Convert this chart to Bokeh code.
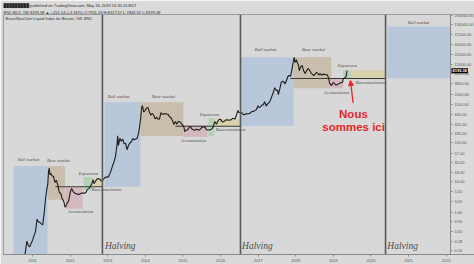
import pandas as pd
from bokeh.plotting import figure
from bokeh.models import (Range1d, FixedTicker, DatetimeTickFormatter, PrintfTickFormatter,
                          Span, Label, Arrow, NormalHead, Title, BoxAnnotation)
from bokeh.core.properties import value
from bokeh.embed import file_html
from bokeh.resources import INLINE

# ---------------- data ----------------
price_dates = [
    "2010-07-18", "2010-08-15", "2010-09-15", "2010-10-10", "2010-10-24", "2010-11-07", "2010-11-21",
    "2010-12-05", "2010-12-19", "2011-01-02", "2011-01-16", "2011-01-30", "2011-02-13", "2011-02-27",
    "2011-03-13", "2011-03-27", "2011-04-10", "2011-04-24", "2011-05-08", "2011-05-22", "2011-05-29",
    "2011-06-05", "2011-06-12", "2011-06-19", "2011-06-26", "2011-07-10", "2011-07-24", "2011-08-07",
    "2011-08-21", "2011-09-04", "2011-09-18", "2011-10-02", "2011-10-16", "2011-10-30", "2011-11-13",
    "2011-11-20", "2011-12-04", "2011-12-18", "2012-01-01", "2012-01-15", "2012-01-29", "2012-02-12",
    "2012-02-26", "2012-03-11", "2012-03-25", "2012-04-08", "2012-04-22", "2012-05-06", "2012-05-20",
    "2012-06-03", "2012-06-17", "2012-07-01", "2012-07-15", "2012-07-29", "2012-08-12", "2012-08-19",
    "2012-09-02", "2012-09-16", "2012-09-30", "2012-10-14", "2012-10-28", "2012-11-11", "2012-11-25",
    "2012-12-09", "2012-12-23", "2013-01-06", "2013-01-20", "2013-02-03", "2013-02-17", "2013-03-03",
    "2013-03-17", "2013-03-31", "2013-04-07", "2013-04-14", "2013-04-28", "2013-05-12", "2013-05-26",
    "2013-06-09", "2013-06-23", "2013-07-07", "2013-07-21", "2013-08-04", "2013-08-18", "2013-09-01",
    "2013-09-15", "2013-09-29", "2013-10-13", "2013-10-27", "2013-11-10", "2013-11-17", "2013-11-24",
    "2013-12-01", "2013-12-08", "2013-12-15", "2013-12-29", "2014-01-12", "2014-01-26", "2014-02-09",
    "2014-02-23", "2014-03-09", "2014-03-23", "2014-04-06", "2014-04-20", "2014-05-04", "2014-05-18",
    "2014-06-01", "2014-06-15", "2014-06-29", "2014-07-13", "2014-07-27", "2014-08-10", "2014-08-24",
    "2014-09-07", "2014-09-21", "2014-10-05", "2014-10-19", "2014-11-02", "2014-11-16", "2014-11-30",
    "2014-12-14", "2014-12-28", "2015-01-11", "2015-01-18", "2015-02-01", "2015-02-15", "2015-03-01",
    "2015-03-15", "2015-03-29", "2015-04-12", "2015-04-26", "2015-05-10", "2015-05-24", "2015-06-07",
    "2015-06-21", "2015-07-05", "2015-07-19", "2015-08-02", "2015-08-16", "2015-08-30", "2015-09-13",
    "2015-09-27", "2015-10-11", "2015-10-25", "2015-11-01", "2015-11-08", "2015-11-22", "2015-12-06",
    "2015-12-20", "2016-01-03", "2016-01-17", "2016-01-31", "2016-02-14", "2016-02-28", "2016-03-13",
    "2016-03-27", "2016-04-10", "2016-04-24", "2016-05-08", "2016-05-22", "2016-06-05", "2016-06-12",
    "2016-06-19", "2016-06-26", "2016-07-10", "2016-07-24", "2016-08-07", "2016-08-21", "2016-09-04",
    "2016-09-18", "2016-10-02", "2016-10-16", "2016-10-30", "2016-11-13", "2016-11-27", "2016-12-11",
    "2016-12-25", "2017-01-01", "2017-01-08", "2017-01-22", "2017-02-05", "2017-02-19", "2017-03-05",
    "2017-03-19", "2017-04-02", "2017-04-16", "2017-04-30", "2017-05-14", "2017-05-28", "2017-06-11",
    "2017-06-25", "2017-07-09", "2017-07-16", "2017-07-30", "2017-08-13", "2017-08-27", "2017-09-10",
    "2017-09-17", "2017-10-01", "2017-10-15", "2017-10-29", "2017-11-12", "2017-11-26", "2017-12-10",
    "2017-12-17", "2017-12-24", "2018-01-07", "2018-01-14", "2018-01-28", "2018-02-04", "2018-02-18",
    "2018-03-04", "2018-03-18", "2018-04-01", "2018-04-15", "2018-04-29", "2018-05-13", "2018-05-27",
    "2018-06-10", "2018-06-24", "2018-07-08", "2018-07-22", "2018-08-05", "2018-08-12", "2018-08-26",
    "2018-09-09", "2018-09-23", "2018-10-07", "2018-10-21", "2018-11-04", "2018-11-18", "2018-11-25",
    "2018-12-09", "2018-12-16", "2018-12-23", "2019-01-06", "2019-01-20", "2019-02-03", "2019-02-17",
    "2019-03-03", "2019-03-17", "2019-03-31", "2019-04-07", "2019-04-21", "2019-05-05", "2019-05-12",
    "2019-05-16",
]
price_values = [
    0.06, 0.07, 0.06, 0.10, 0.15, 0.28, 0.22,
    0.20, 0.25, 0.30, 0.40, 0.50, 1.05, 0.90,
    0.88, 0.80, 0.75, 1.50, 3.8, 7.0, 8.6,
    18.5, 23.0, 15.5, 16.8, 14.5, 13.7, 9.8,
    11.0, 8.2, 5.3, 5.0, 3.6, 3.2, 2.2,
    2.3, 2.8, 3.2, 5.2, 6.8, 5.7, 5.2,
    4.9, 4.8, 4.7, 4.9, 5.1, 5.1, 5.1,
    5.3, 6.4, 6.7, 7.6, 8.9, 11.5, 9.0,
    10.2, 11.8, 12.4, 11.8, 10.7, 10.9, 12.3,
    13.4, 13.4, 13.6, 16.0, 20.5, 26.8, 34.0,
    47.0, 93.0, 162.0, 90.0, 139.0, 117.0, 133.0,
    100.0, 103.0, 70.0, 90.0, 105.0, 113.0, 138.0,
    127.0, 133.0, 140.0, 190.0, 340.0, 480.0, 800.0,
    1000.0, 880.0, 680.0, 740.0, 860.0, 900.0, 680.0,
    560.0, 630.0, 560.0, 450.0, 500.0, 440.0, 450.0,
    650.0, 600.0, 600.0, 625.0, 595.0, 590.0, 510.0,
    480.0, 410.0, 320.0, 385.0, 325.0, 385.0, 380.0,
    350.0, 315.0, 270.0, 210.0, 225.0, 235.0, 260.0,
    285.0, 245.0, 235.0, 225.0, 240.0, 238.0, 225.0,
    245.0, 270.0, 275.0, 280.0, 235.0, 230.0, 230.0,
    235.0, 250.0, 285.0, 360.0, 380.0, 325.0, 390.0,
    440.0, 430.0, 380.0, 375.0, 405.0, 430.0, 415.0,
    420.0, 420.0, 460.0, 460.0, 445.0, 580.0, 680.0,
    740.0, 660.0, 650.0, 655.0, 590.0, 580.0, 610.0,
    610.0, 615.0, 640.0, 700.0, 705.0, 735.0, 775.0,
    900.0, 1000.0, 900.0, 920.0, 1020.0, 1060.0, 1270.0,
    970.0, 1110.0, 1190.0, 1380.0, 1770.0, 2200.0, 2960.0,
    2500.0, 2520.0, 1950.0, 2740.0, 4100.0, 4350.0, 4150.0,
    3700.0, 4400.0, 5700.0, 6150.0, 5900.0, 9300.0, 15000.0,
    18500.0, 13500.0, 16000.0, 13800.0, 11200.0, 8200.0, 10400.0,
    11400.0, 8300.0, 6900.0, 8100.0, 9400.0, 8600.0, 7350.0,
    6700.0, 6150.0, 6700.0, 7400.0, 7000.0, 6300.0, 6900.0,
    6250.0, 6700.0, 6600.0, 6450.0, 6400.0, 5000.0, 3900.0,
    3450.0, 3350.0, 3900.0, 3980.0, 3550.0, 3450.0, 3700.0,
    3850.0, 4000.0, 4100.0, 5050.0, 5300.0, 5800.0, 7950.0,
    8199.38,
]

# phase boxes
box_phase = ["bull", "bear", "accum", "expan", "reacc",
             "bull", "bear", "accum", "expan", "reacc",
             "bull", "bear", "accum", "expan", "reacc",
             "bull"]
box_start = ["2010-06-30", "2011-05-26", "2011-11-16", "2012-05-10", "2012-08-06",
             "2012-12-01", "2013-11-14", "2015-01-06", "2015-09-05", "2015-11-02",
             "2016-07-13", "2017-12-10", "2018-11-13", "2019-04-08", "2019-06-16",
             "2020-06-10"]
box_end = ["2011-05-26", "2011-11-11", "2012-05-01", "2012-08-06", "2012-11-11",
           "2013-11-14", "2015-01-06", "2015-08-26", "2015-11-02", "2016-07-13",
           "2017-12-10", "2018-12-13", "2019-04-08", "2019-06-16", "2020-05-22",
           "2022-02-12"]
box_top = [26.2, 26.2, 7.5, 13.6, 12.1,
           1233, 1233, 310, 472, 445,
           18420, 18420, 5216, 8430, 8430,
           118600]
box_bottom = [0.05, 3.4, 2.0, 5.9, 7.5,
              7.5, 161, 151, 161, 292,
              292, 2864, 2864, 5216, 5216,
              5216]
phase_colors = {"bull": "#b8c7da", "bear": "#c9bdac", "accum": "#d5b8be",
                "expan": "#b6d2b6", "reacc": "#d7d1ac"}

# phase labels
label_text = ["Bull market", "Bear market", "Expansion", "Reaccumulation", "Accumulation",
              "Bull market", "Bear market", "Expansion", "Reaccumulation", "Accumulation",
              "Bull market", "Bear market", "Expansion", "Reaccumulation", "Accumulation",
              "Bull market"]
label_date = ["2010-11-22", "2011-09-10", "2012-06-27", "2012-12-19", "2012-04-11",
              "2013-04-15", "2014-06-26", "2015-09-15", "2016-04-08", "2015-04-14",
              "2017-03-14", "2018-06-22", "2019-05-18", "2019-12-27", "2019-02-01",
              "2021-04-08"]
label_price = [37.9, 35.6, 16.3, 6.24, 1.67,
               1771, 1771, 600, 230, 118.6,
               29800, 29800, 11400, 4104, 2250,
               150700]

# accumulation support lines
level_start = ["2011-08-11", "2014-10-20", "2017-11-10"]
level_end = ["2012-11-11", "2016-07-13", "2020-05-22"]
level_price = [7.5, 288, 5160]

# halvings
halving_dates = ["2012-11-10", "2016-07-13", "2020-05-22"]
halving_label_dates = ["2012-12-05", "2016-07-28", "2020-06-08"]
halving_label_price = [0.215, 0.215, 0.215]

# ticks
year_ticks = list(range(2011, 2023))
price_ticks = [0.16, 0.28, 0.50, 0.90, 1.60, 3.00, 5.50, 10.00, 18.00, 32.00, 57.00, 105.00,
               185.00, 325.00, 600.00, 1100.00, 2000.00, 3800.00, 6800.00, 12000.00, 22000.00,
               40000.00, 72000.00, 130000.00, 230000.00]
last_price = 8199.38

header_1 = "\u2588\u2588\u2588\u2588\u2588\u2588\u2588\u2588\u2588 published on TradingView.com, May 16, 2019 14:30:15 EDT"
header_2 = "BNC:BLX, 1W  8199.38 \u25b2 +251.14 (+3.16%)  O:7951.09  H:8317.57  L:7843.92  C:8199.38"
pane_title = "BraveNewCoin Liquid Index for Bitcoin, 1W, BNC"

# chart pane ends where the price scale starts
pane_end = "2022-02-12"

# ---------------- figure ----------------
def ms(d):
    return pd.Timestamp(d).value / 1e6

p = figure(width=474, height=264, output_backend="svg", toolbar_location=None,
           x_axis_type="datetime", y_axis_type="log", y_axis_location="right",
           x_range=Range1d(ms("2010-03-25"), ms("2022-10-03")),
           y_range=Range1d(0.126, 243900),
           min_border_left=3, min_border_right=0, min_border_top=13, min_border_bottom=10)

p.background_fill_color = "#d8d8d8"
p.border_fill_color = "#dadada"
p.outline_line_color = "#9a9a9a"
p.xgrid.visible = False
p.ygrid.visible = False

# price-scale strip (same tone as the border)
p.add_layout(BoxAnnotation(left=ms(pane_end), fill_color="#dadada", fill_alpha=1.0,
                           line_color=None, level="underlay"))

p.yaxis.fixed_location = ms(pane_end)
p.yaxis.ticker = FixedTicker(ticks=price_ticks)
p.yaxis.formatter = PrintfTickFormatter(format="%.2f")
p.xaxis.ticker = FixedTicker(ticks=[ms(f"{y}-01-01") for y in year_ticks])
p.xaxis.formatter = DatetimeTickFormatter(years="%Y", months="%Y", days="%Y", hours="%Y")
for ax in (p.xaxis, p.yaxis):
    ax.major_label_text_font_size = "4px"
    ax.major_label_text_color = "#555555"
    ax.major_label_text_font = "Liberation Sans"
    ax.major_tick_out = 2
    ax.major_tick_in = 0
    ax.major_label_standoff = 2
    ax.minor_tick_line_color = None
    ax.axis_line_color = "#8a8a8a"
    ax.major_tick_line_color = "#8a8a8a"

# header lines (above the pane)
for txt in (header_2, header_1):
    p.add_layout(Title(text=txt, text_font="Liberation Sans", text_font_size="4px",
                       text_font_style="normal", text_color="#2a2a2a", standoff=0,
                       offset=0), "above")

# boxes
p.quad(left=pd.to_datetime(box_start), right=pd.to_datetime(box_end),
       top=box_top, bottom=box_bottom,
       fill_color=[phase_colors[k] for k in box_phase], line_color=None)

# halving lines
for d in halving_dates:
    p.add_layout(Span(location=ms(d), dimension="height", line_color="#5a5a5a", line_width=1.6))

# support levels
p.segment(x0=pd.to_datetime(level_start), y0=level_price, x1=pd.to_datetime(level_end),
          y1=level_price, line_color="#3a3a3a", line_width=1.1)

# price
p.line(pd.to_datetime(price_dates), price_values, line_color="#1c1c1c", line_width=1.1)

# phase labels
p.text(x=pd.to_datetime(label_date), y=label_price, text=label_text,
       text_font=value("Liberation Serif"), text_font_style="italic", text_font_size="4.6px",
       text_align="center", text_baseline="middle", text_color="#4a4a4a")

# halving labels
p.text(x=pd.to_datetime(halving_label_dates), y=halving_label_price, text=["Halving"] * 3,
       text_font=value("Liberation Serif"), text_font_style="italic", text_font_size="9.5px",
       text_align="left", text_baseline="middle", text_color="#4d4d4d")

# red annotation
red = "#e3262b"
p.text(x=pd.to_datetime(["2019-07-15", "2019-07-17"]), y=[611, 275], text=["Nous", "sommes ici"],
       text_font=value("Liberation Sans"), text_font_style="bold", text_font_size="11.5px",
       text_align="center", text_baseline="middle", text_color=red)
p.add_layout(Arrow(end=NormalHead(size=5, fill_color=red, line_color=red),
                   x_start=ms("2019-07-12"), y_start=1183, x_end=ms("2019-06-16"), y_end=4545,
                   line_color=red, line_width=1.3))

# pane title
p.add_layout(Label(x=2, y=236, x_units="screen", y_units="screen", text=pane_title,
                   text_font="Liberation Sans", text_font_size="4px", text_color="#333333",
                   text_baseline="middle"))

# last price marker on the price scale
p.add_layout(Label(x=448, y=last_price, x_units="screen", y_units="data", text="8199.38",
                   text_font="Liberation Sans", text_font_size="4px", text_color="white",
                   text_font_style="bold", text_baseline="middle",
                   background_fill_color="black", padding=1))

open("out.html", "w").write(file_html(p, INLINE))
